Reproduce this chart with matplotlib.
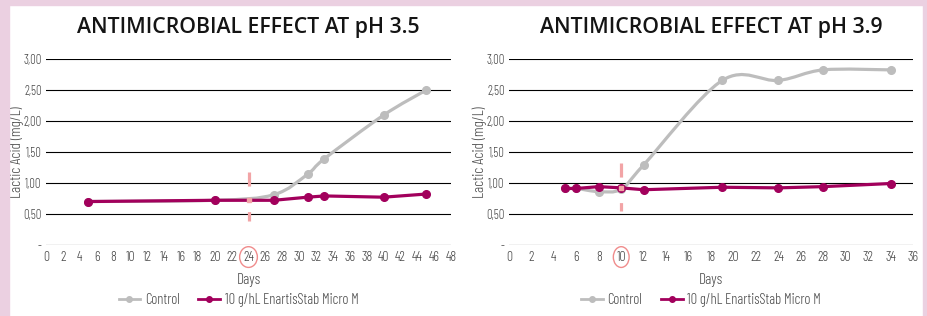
import matplotlib
matplotlib.use('Agg')
import matplotlib.pyplot as plt
import numpy as np
from matplotlib.path import Path
from matplotlib.patches import PathPatch, Rectangle
from matplotlib.lines import Line2D

# pH 3.5 panel
days_35 = [5, 20, 27, 31, 33, 40, 45]
control_35 = [0.70, 0.72, 0.81, 1.14, 1.39, 2.09, 2.49]
micro_35 = [0.70, 0.72, 0.72, 0.77, 0.79, 0.77, 0.82]
marker_day_35 = 24

# pH 3.9 panel
days_39 = [5, 6, 8, 10, 12, 19, 24, 28, 34]
control_39 = [0.91, 0.91, 0.86, 0.90, 1.29, 2.65, 2.65, 2.82, 2.82]
micro_39 = [0.91, 0.91, 0.94, 0.92, 0.89, 0.93, 0.92, 0.94, 0.99]
marker_day_39 = 10

titles = ['ANTIMICROBIAL EFFECT AT pH 3.5', 'ANTIMICROBIAL EFFECT AT pH 3.9']
yticks = [0, 0.5, 1.0, 1.5, 2.0, 2.5, 3.0]
ytick_labels = ['-', '0,50', '1,00', '1,50', '2,00', '2,50', '3,00']
legend_labels = ['Control', '10 g/hL EnartisStab Micro M']

GRAY = '#BDBDBD'
PURPLE = '#A2005C'
PINK = '#F2A4A6'
BORDER = '#EBD0E1'
TXT = '#4A4A4A'
NARROW = ['Barlow Condensed', 'Liberation Sans Narrow', 'DejaVu Sans']


def smooth_path(x, y):
    # excel-like smoothed line: catmull-rom segments as cubic beziers
    pts = np.column_stack([x, y]).astype(float)
    verts = [pts[0]]
    codes = [Path.MOVETO]
    n = len(pts)
    for i in range(n - 1):
        p0 = pts[i - 1] if i > 0 else pts[i]
        p1, p2 = pts[i], pts[i + 1]
        p3 = pts[i + 2] if i + 2 < n else pts[i + 1]
        verts += [p1 + (p2 - p0) / 6, p2 - (p3 - p1) / 6, p2]
        codes += [Path.CURVE4] * 3
    return Path(verts, codes)


def panel(ax, days, control, micro, xmax, mark_day, dash_lo, dash_hi, title):
    ax.set_xlim(0, xmax)
    ax.set_ylim(0, 3.0)
    for s in ax.spines.values():
        s.set_visible(False)
    for v in yticks:
        ax.axhline(v, color='black', lw=0.8, zorder=1)

    ax.add_patch(PathPatch(smooth_path(days, control), fc='none', ec=GRAY,
                           lw=2.3, zorder=2, capstyle='round'))
    ax.plot(days, control, 'o', color=GRAY, ms=5.5, zorder=2, clip_on=False)
    ax.plot(days, micro, '-o', color=PURPLE, lw=2.3, ms=5.5, zorder=3, clip_on=False)

    # dashed marker at the day of interest
    ax.plot([mark_day, mark_day], [dash_hi, dash_lo], color=PINK, lw=2.3,
            linestyle=(0, (4.4, 8.0)), zorder=4, solid_capstyle='butt')
    ymid = np.interp(mark_day, days, micro)
    ax.plot([mark_day], [ymid], 's', color=PINK, ms=3, zorder=5)

    ax.set_xticks(np.arange(0, xmax + 1, 2))
    ax.set_yticks(yticks)
    ax.set_yticklabels(ytick_labels)
    ax.tick_params(length=0, labelcolor=TXT)
    ax.tick_params(axis='x', pad=4, labelsize=10)
    ax.tick_params(axis='y', pad=3, labelsize=9)
    for lab in ax.get_xticklabels() + ax.get_yticklabels():
        lab.set_family(NARROW)
        lab.set_fontweight(300)
    idx = list(np.arange(0, xmax + 1, 2)).index(mark_day)
    ax.get_xticklabels()[idx].set_bbox(dict(boxstyle='ellipse,pad=0.06', fc='none',
                                            ec='#F08C8C', lw=1.0))

    ax.set_ylabel('Lactic Acid (mg/L)', fontsize=11, color=TXT, family=NARROW, fontweight=300)
    ax.yaxis.set_label_coords(-22 / 405, 0.5)
    ax.set_xlabel('Days', fontsize=11, color=TXT, family=NARROW, fontweight=300)
    ax.xaxis.set_label_coords(0.5, -(273 - 245) / 186.3)

    handles = [Line2D([], [], color=GRAY, lw=2, marker='o', ms=4),
               Line2D([], [], color=PURPLE, lw=2, marker='o', ms=4)]
    ax.legend(handles, legend_labels, loc='center', ncol=2, frameon=False,
              bbox_to_anchor=(0.5 - 10 / 405, -(300 - 245) / 186.3),
              prop={'family': NARROW, 'size': 10.5, 'weight': 300}, labelcolor=TXT,
              handlelength=1.5, handletextpad=0.3, columnspacing=1.3)

    pos = ax.get_position()
    fig.text((pos.x0 + pos.x1) / 2, 1 - 28 / 316, title, ha='center', va='center',
             fontsize=15.3, fontweight=600, family='Open Sans', color='#141414')


fig = plt.figure(figsize=(9.27, 3.16), dpi=100)
ax1 = fig.add_axes([46 / 927, 71 / 316, 405 / 927, 186.3 / 316])
ax2 = fig.add_axes([509 / 927, 71 / 316, 404 / 927, 186.3 / 316])

panel(ax1, days_35, control_35, micro_35, 48, marker_day_35, 0.39, 1.18, titles[0])
panel(ax2, days_39, control_39, micro_39, 36, marker_day_39, 0.55, 1.32, titles[1])

# pink page border (left, top, right)
fig.patches.append(Rectangle((0, 0), 9 / 927, 1, transform=fig.transFigure,
                             color=BORDER, zorder=0))
fig.patches.append(Rectangle((0, 1 - 5 / 316), 1, 5 / 316, transform=fig.transFigure,
                             color=BORDER, zorder=0))
fig.patches.append(Rectangle((923 / 927, 0), 4 / 927, 1, transform=fig.transFigure,
                             color=BORDER, zorder=0))

fig.savefig('out.png', dpi=100)
